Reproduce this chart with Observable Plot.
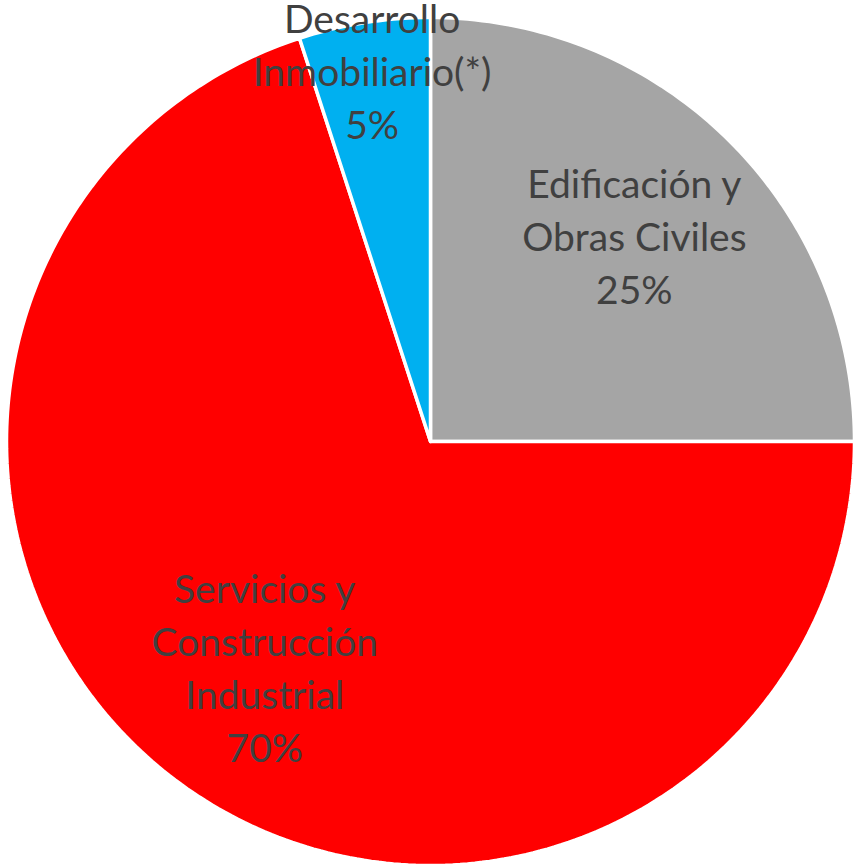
<!DOCTYPE html>
<html>
<head>
<meta charset="utf-8">
<script src="https://cdn.jsdelivr.net/npm/d3@7"></script>
<script src="https://cdn.jsdelivr.net/npm/@observablehq/plot@0.6"></script>
<style>
  html, body { margin: 0; padding: 0; background: #fff; }
</style>
</head>
<body>
<div id="chart"></div>
<script>
const categories = ["Edificación y\nObras Civiles", "Servicios y\nConstrucción\nIndustrial", "Desarrollo\nInmobiliario(*)"];
const shares = [25, 70, 5];
const colors = ["#A5A5A5", "#FF0000", "#00B0F0"];

const W = 856, H = 868;
const cx = 430, cy = 441, R = 424;

const total = d3.sum(shares);
let acc = 0;
const slices = categories.map((c, i) => {
  const a0 = acc / total * 2 * Math.PI;
  acc += shares[i];
  const a1 = acc / total * 2 * Math.PI;
  return {category: c, value: shares[i], a0, a1, color: colors[i]};
});

// polygon points for each slice (center + arc)
const pts = [];
slices.forEach(s => {
  pts.push({slice: s.category, x: 0, y: 0});
  const n = Math.max(4, Math.ceil((s.a1 - s.a0) / (Math.PI / 180)));
  for (let k = 0; k <= n; k++) {
    const a = s.a0 + (s.a1 - s.a0) * k / n;
    pts.push({slice: s.category, x: Math.sin(a), y: Math.cos(a)});
  }
  pts.push({slice: s.category, x: 0, y: 0});
});

const labels = slices.map(s => {
  const am = (s.a0 + s.a1) / 2;
  const frac = s.value / total;
  const rf = frac < 0.1 ? 0.88 : (frac > 0.5 ? 0.665 : 0.68);
  return {text: s.category + "\n" + s.value + "%", x: rf * Math.sin(am), y: rf * Math.cos(am)};
});

const chart = Plot.plot({
  width: W,
  height: H,
  margin: 0,
  x: {domain: [-cx / R, (W - cx) / R], axis: null},
  y: {domain: [-(H - cy) / R, cy / R], axis: null},
  color: {domain: categories, range: colors},
  style: {background: "#fff"},
  marks: [
    Plot.line(pts, {x: "x", y: "y", z: "slice", fill: "slice", stroke: "#fff", strokeWidth: 3.5, strokeLinejoin: "miter"}),
    Plot.text(labels, {x: "x", y: "y", text: "text", fill: "#404040", fontSize: 39, lineHeight: 1.36, fontFamily: "Lato", textAnchor: "middle", lineAnchor: "middle", dy: -4})
  ]
});
document.getElementById("chart").appendChild(chart);
</script>
</body>
</html>
